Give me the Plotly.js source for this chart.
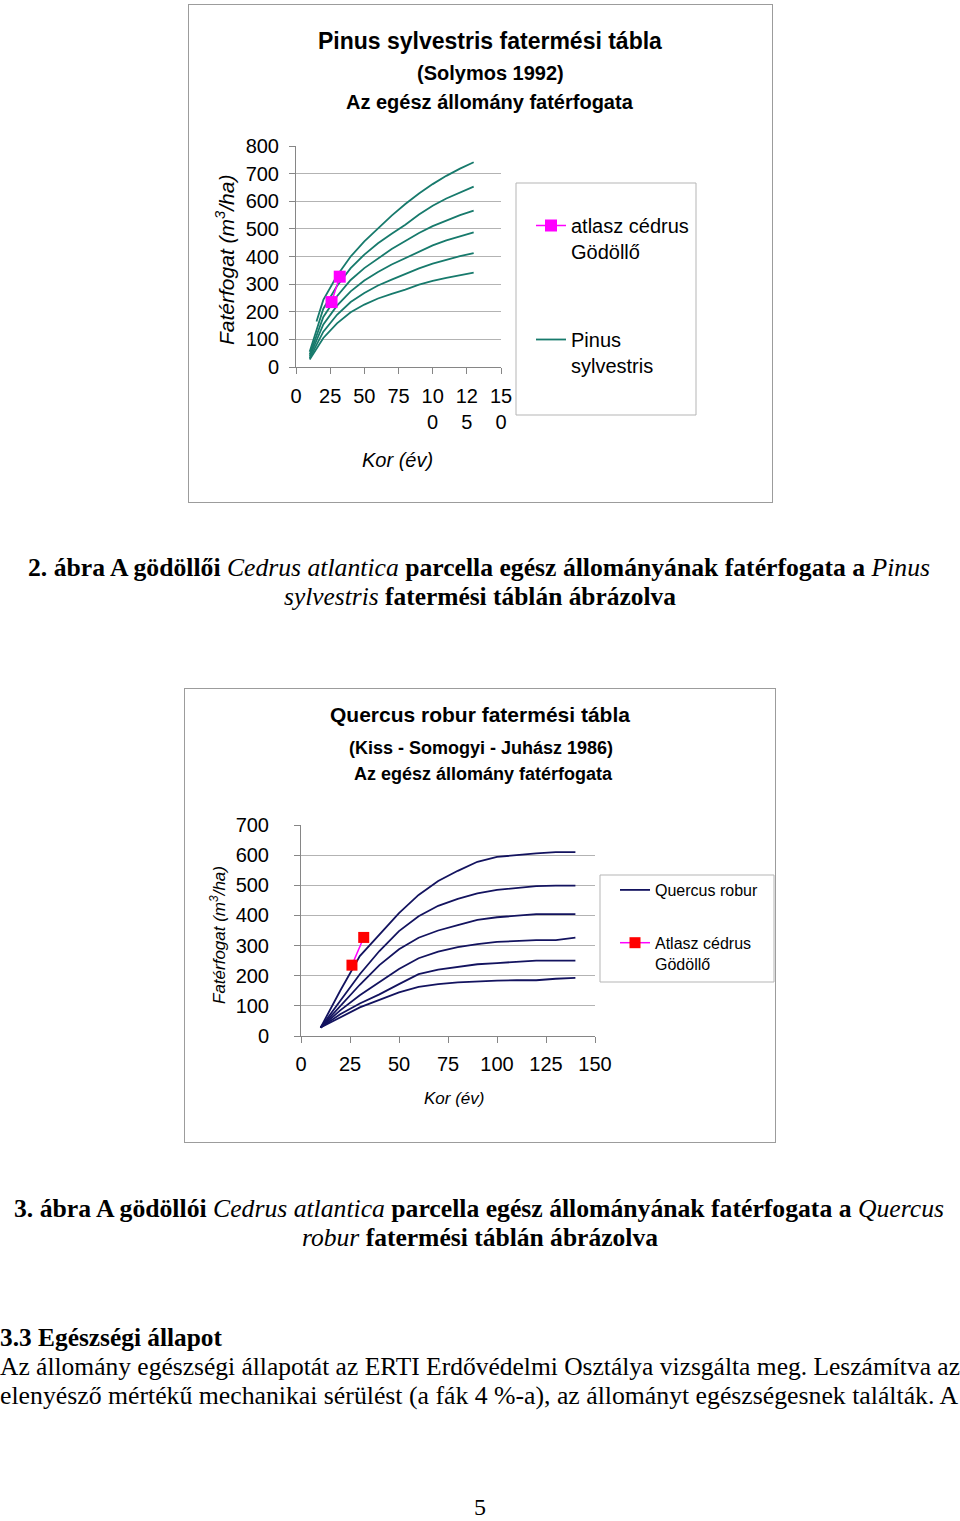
<!DOCTYPE html>
<html><head><meta charset="utf-8">
<script src="https://cdn.plot.ly/plotly-3.0.1.min.js"></script>
<style>
body{margin:0;background:#fff;width:960px;height:1521px;position:relative;overflow:hidden;}
.frame{position:absolute;border:1px solid #9c9c9c;box-sizing:border-box;}
.plot{position:absolute;}
svg#txt{position:absolute;left:0;top:0;}
</style></head><body>
<div class="frame" style="left:188px;top:4px;width:585px;height:499px"></div>
<div id="c1" class="plot" style="left:188px;top:4px;width:585px;height:499px"></div>
<div class="frame" style="left:184px;top:688px;width:592px;height:455px"></div>
<div id="c2" class="plot" style="left:184px;top:688px;width:592px;height:455px"></div>
<svg id="txt" width="960" height="1521" font-family="Liberation Serif, Times New Roman, serif" fill="#000">
<text x="28" y="576" font-size="25" font-weight="bold" textLength="902" lengthAdjust="spacingAndGlyphs">2. ábra A gödöllői <tspan font-style="italic" font-weight="normal">Cedrus atlantica</tspan> parcella egész állományának fatérfogata a <tspan font-style="italic" font-weight="normal">Pinus</tspan></text>
<text x="284" y="605" font-size="25" font-weight="bold" textLength="392" lengthAdjust="spacingAndGlyphs"><tspan font-style="italic" font-weight="normal">sylvestris</tspan> fatermési táblán ábrázolva</text>
<text x="14" y="1217" font-size="25" font-weight="bold" textLength="930" lengthAdjust="spacingAndGlyphs">3. ábra A gödöllói <tspan font-style="italic" font-weight="normal">Cedrus atlantica</tspan> parcella egész állományának fatérfogata a <tspan font-style="italic" font-weight="normal">Quercus</tspan></text>
<text x="302" y="1246" font-size="25" font-weight="bold" textLength="356" lengthAdjust="spacingAndGlyphs"><tspan font-style="italic" font-weight="normal">robur</tspan> fatermési táblán ábrázolva</text>
<text x="0" y="1346" font-size="25" font-weight="bold" textLength="222" lengthAdjust="spacingAndGlyphs">3.3 Egészségi állapot</text>
<text x="0" y="1375" font-size="25" textLength="960" lengthAdjust="spacingAndGlyphs">Az állomány egészségi állapotát az ERTI Erdővédelmi Osztálya vizsgálta meg. Leszámítva az</text>
<text x="0" y="1404" font-size="25" textLength="958" lengthAdjust="spacingAndGlyphs">elenyésző mértékű mechanikai sérülést (a fák 4 %-a), az állományt egészségesnek találták. A</text>
<text x="480" y="1515" font-size="24" text-anchor="middle">5</text>
</svg>
<script>
// ---------- data ----------
const pinusAgesI = [15,20,30,40,50,60,70,80,90,100,110,120,130];
const pinusAges  = [10,20,30,40,50,60,70,80,90,100,110,120,130];
const pinusI   = [165,243,330,400,455,502,548,590,628,662,692,718,741];
const pinusII  = [55,211,293,358,407,448,482,515,552,584,610,632,653];
const pinusIII = [45,181,256,315,358,394,427,456,485,510,531,550,566];
const pinusIV  = [38,154,222,274,313,344,371,394,419,440,458,473,487];
const pinusV   = [32,128,189,235,268,295,316,336,357,374,388,401,412];
const pinusVI  = [27,105,158,198,226,248,265,280,298,312,323,333,342];

const quercusAges = [10,20,30,40,50,60,70,80,90,100,110,120,130,140];
const quercusI   = [28,150,265,338,408,468,514,548,578,594,601,606,610,610];
const quercusII  = [28,118,205,282,348,397,432,455,473,485,492,497,499,499];
const quercusIII = [28,100,170,235,288,326,350,368,385,394,400,404,404,404];
const quercusIV  = [28,85,135,178,222,258,280,295,305,312,316,318,318,326];
const quercusV   = [28,72,108,138,172,205,220,230,238,242,245,250,250,250];
const quercusVI  = [28,62,95,120,145,163,172,178,182,184,185,185,190,193];

const cedrusAges   = [26,32];
const cedrusVolume = [235,327];

const xTickVals  = [0,25,50,75,100,125,150];
const xTickText1 = ['0','25','50','75','10<br>0','12<br>5','15<br>0'];
const xTickText2 = ['0','25','50','75','100','125','150'];

// ---------- helpers ----------
const FONT = 'Liberation Sans, Arial, sans-serif';
function frame(W,H,m){const w=W-m.l-m.r,h=H-m.t-m.b;return {fx:p=>(p-m.l)/w, fy:p=>(m.t+h-p)/h};}
function ann(c,x,y,text,size,extra){return Object.assign({xref:'paper',yref:'paper',x:c.fx(x),y:c.fy(y),xanchor:'center',yanchor:'middle',showarrow:false,text:text,font:{family:FONT,size:size,color:'#000'}},extra||{});}
function box(c,x0,y0,x1,y1,col){return {type:'rect',xref:'paper',yref:'paper',x0:c.fx(x0),x1:c.fx(x1),y0:c.fy(y1),y1:c.fy(y0),line:{color:col,width:1},fillcolor:'rgba(0,0,0,0)'};}
function axisBase(){return {zeroline:false,showline:true,linecolor:'#868686',linewidth:1,ticks:'outside',ticklen:6,tickcolor:'#868686',tickfont:{family:FONT,size:20,color:'#000'},fixedrange:true};}

// ---------- chart 1 ----------
const PINE = '#177a6c';
const W1=585,H1=499,m1={l:108,r:272,t:142,b:136,pad:0};
const c1 = frame(W1,H1,m1);
const pinusSeries = [[pinusAgesI,pinusI],[pinusAges,pinusII],[pinusAges,pinusIII],[pinusAges,pinusIV],[pinusAges,pinusV],[pinusAges,pinusVI]];
const tr1 = pinusSeries.map((s,i)=>({x:s[0],y:s[1],type:'scatter',mode:'lines',line:{color:PINE,width:1.8},
  name:'Pinus<br>sylvestris',legendgroup:'p',legendrank:2,showlegend:i===0}));
tr1.push({x:cedrusAges,y:cedrusVolume,type:'scatter',mode:'lines+markers',name:'atlasz cédrus<br>Gödöllő',legendgroup:'c',legendrank:1,
  line:{color:'#ff00ff',width:1.5},marker:{symbol:'square',size:12,color:'#ff00ff'}});
const ax1 = Object.assign(axisBase(),{range:[0,150],tickvals:xTickVals,ticktext:xTickText1,showgrid:false,ticklabelstandoff:5});
const ay1 = Object.assign(axisBase(),{range:[0,800],tick0:0,dtick:100,showgrid:true,gridcolor:'#b3b3b3',gridwidth:1,ticklabelstandoff:6});
const lay1 = {width:W1,height:H1,margin:m1,paper_bgcolor:'rgba(0,0,0,0)',plot_bgcolor:'rgba(0,0,0,0)',
  xaxis:ax1,yaxis:ay1,showlegend:true,
  legend:{x:c1.fx(343),xanchor:'left',y:c1.fy(202),yanchor:'top',traceorder:'grouped',tracegroupgap:59,valign:'top',
    font:{family:FONT,size:20,color:'#000'},bgcolor:'rgba(0,0,0,0)',borderwidth:0},
  shapes:[box(c1,328,179,508,411,'#b5b5b5')],
  annotations:[
    ann(c1,302,37,'<b>Pinus sylvestris fatermési tábla</b>',23),
    ann(c1,302,69,'<b>(Solymos 1992)</b>',20),
    ann(c1,302,98,'<b>Az egész állomány fatérfogata</b>',20),
    ann(c1,37,256,'<i>Fatérfogat (m<sup>3</sup>/ha)</i>',21,{textangle:-90}),
    ann(c1,209,456,'<i>Kor (év)</i>',20)
  ]};
Plotly.newPlot('c1',tr1,lay1,{displayModeBar:false,staticPlot:true});

// ---------- chart 2 ----------
const OAK = '#13135f';
const W2=592,H2=455,m2={l:117,r:181,t:137,b:107,pad:0};
const c2 = frame(W2,H2,m2);
const quercusSeries = [quercusI,quercusII,quercusIII,quercusIV,quercusV,quercusVI];
const tr2 = quercusSeries.map((s,i)=>({x:quercusAges,y:s,type:'scatter',mode:'lines',line:{color:OAK,width:1.8},
  name:'Quercus robur',legendgroup:'q',legendrank:1,showlegend:i===0}));
tr2.push({x:cedrusAges,y:cedrusVolume,type:'scatter',mode:'lines+markers',name:'Atlasz cédrus<br>Gödöllő',legendgroup:'c',legendrank:2,
  line:{color:'#ff00ff',width:1.5},marker:{symbol:'square',size:11,color:'#ff0000'}});
const ax2 = Object.assign(axisBase(),{range:[0,150],tickvals:xTickVals,ticktext:xTickText2,showgrid:false,ticklabelstandoff:4});
const ay2 = Object.assign(axisBase(),{range:[0,700],tick0:0,dtick:100,showgrid:true,gridcolor:'#b3b3b3',gridwidth:1,ticklabelstandoff:21});
const lay2 = {width:W2,height:H2,margin:m2,paper_bgcolor:'rgba(0,0,0,0)',plot_bgcolor:'rgba(0,0,0,0)',
  xaxis:ax2,yaxis:ay2,showlegend:true,
  legend:{x:c2.fx(431),xanchor:'left',y:c2.fy(185),yanchor:'top',traceorder:'grouped',tracegroupgap:29,valign:'top',
    font:{family:FONT,size:16,color:'#000'},bgcolor:'rgba(0,0,0,0)',borderwidth:0},
  shapes:[box(c2,416,187,590,294,'#b5b5b5')],
  annotations:[
    ann(c2,296,27,'<b>Quercus robur fatermési tábla</b>',21),
    ann(c2,297,60,'<b>(Kiss - Somogyi - Juhász 1986)</b>',18),
    ann(c2,299,86,'<b>Az egész állomány fatérfogata</b>',18),
    ann(c2,34,247,'<i>Fatérfogat (m<sup>3</sup>/ha)</i>',17,{textangle:-90}),
    ann(c2,270,410,'<i>Kor (év)</i>',17)
  ]};
Plotly.newPlot('c2',tr2,lay2,{displayModeBar:false,staticPlot:true});
</script>
</body></html>
